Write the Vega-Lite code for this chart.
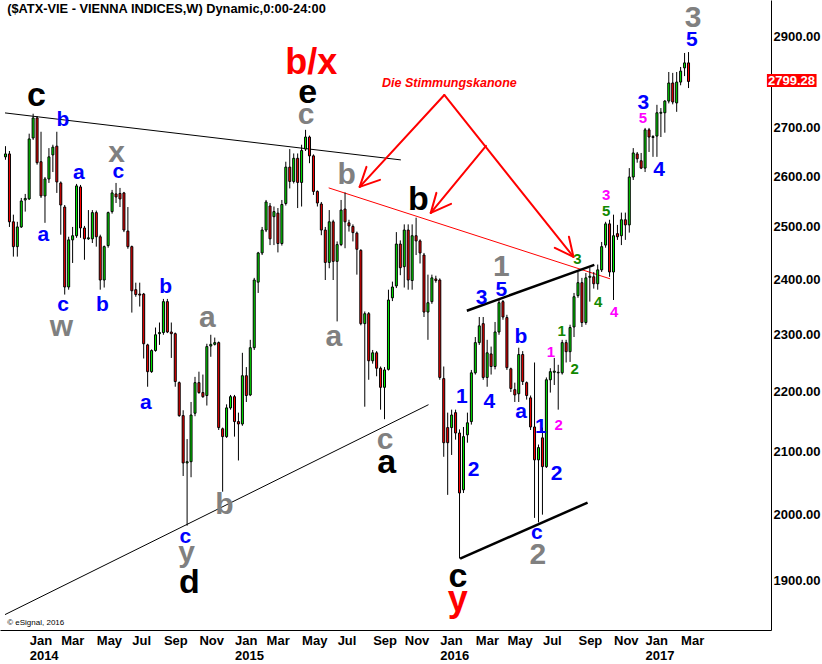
{
  "$schema": "https://vega.github.io/schema/vega-lite/v6.json",
  "width": 771,
  "height": 630,
  "autosize": {"type": "none"},
  "padding": {"left": 0, "top": 0, "right": 51, "bottom": 34},
  "background": "white",
  "config": {"view": {"stroke": null}, "axis": {"grid": false, "ticks": false, "title": null}},
  "datasets": {
    "candles": [
      {"d":"2013-11-25","o":2640,"h":2662,"l":2634,"c":2646},
      {"d":"2013-12-02","o":2646,"h":2652,"l":2500,"c":2510},
      {"d":"2013-12-09","o":2510,"h":2524,"l":2443,"c":2462},
      {"d":"2013-12-16","o":2462,"h":2510,"l":2443,"c":2500},
      {"d":"2013-12-23","o":2500,"h":2557,"l":2498,"c":2551},
      {"d":"2013-12-30","o":2553,"h":2565,"l":2530,"c":2556},
      {"d":"2014-01-06","o":2555,"h":2688,"l":2553,"c":2677},
      {"d":"2014-01-13","o":2679,"h":2730,"l":2675,"c":2721},
      {"d":"2014-01-20","o":2721,"h":2725,"l":2624,"c":2628},
      {"d":"2014-01-27","o":2630,"h":2692,"l":2557,"c":2561},
      {"d":"2014-02-03","o":2561,"h":2599,"l":2508,"c":2595},
      {"d":"2014-02-10","o":2595,"h":2658,"l":2587,"c":2640},
      {"d":"2014-02-17","o":2644,"h":2665,"l":2609,"c":2660},
      {"d":"2014-02-24","o":2662,"h":2692,"l":2567,"c":2589},
      {"d":"2014-03-03","o":2587,"h":2590,"l":2485,"c":2543},
      {"d":"2014-03-10","o":2539,"h":2543,"l":2372,"c":2386},
      {"d":"2014-03-17","o":2386,"h":2481,"l":2381,"c":2475},
      {"d":"2014-03-24","o":2475,"h":2500,"l":2431,"c":2483},
      {"d":"2014-03-31","o":2483,"h":2585,"l":2479,"c":2581},
      {"d":"2014-04-07","o":2579,"h":2583,"l":2479,"c":2498},
      {"d":"2014-04-14","o":2498,"h":2502,"l":2437,"c":2477},
      {"d":"2014-04-21","o":2477,"h":2533,"l":2475,"c":2479},
      {"d":"2014-04-28","o":2477,"h":2533,"l":2469,"c":2528},
      {"d":"2014-05-05","o":2528,"h":2532,"l":2462,"c":2481},
      {"d":"2014-05-12","o":2481,"h":2485,"l":2381,"c":2399},
      {"d":"2014-05-19","o":2399,"h":2464,"l":2385,"c":2462},
      {"d":"2014-05-26","o":2464,"h":2530,"l":2460,"c":2528},
      {"d":"2014-06-02","o":2530,"h":2573,"l":2526,"c":2567},
      {"d":"2014-06-09","o":2565,"h":2587,"l":2547,"c":2559},
      {"d":"2014-06-16","o":2566,"h":2577,"l":2539,"c":2555},
      {"d":"2014-06-23","o":2567,"h":2569,"l":2490,"c":2494},
      {"d":"2014-06-30","o":2492,"h":2539,"l":2458,"c":2462},
      {"d":"2014-07-07","o":2462,"h":2464,"l":2339,"c":2379},
      {"d":"2014-07-14","o":2381,"h":2394,"l":2368,"c":2372},
      {"d":"2014-07-21","o":2373,"h":2394,"l":2350,"c":2371},
      {"d":"2014-07-28","o":2373,"h":2375,"l":2257,"c":2283},
      {"d":"2014-08-04","o":2281,"h":2283,"l":2208,"c":2234},
      {"d":"2014-08-11","o":2234,"h":2273,"l":2232,"c":2271},
      {"d":"2014-08-18","o":2271,"h":2312,"l":2269,"c":2299},
      {"d":"2014-08-25","o":2301,"h":2321,"l":2281,"c":2303},
      {"d":"2014-09-01","o":2303,"h":2364,"l":2299,"c":2359},
      {"d":"2014-09-08","o":2359,"h":2364,"l":2302,"c":2304},
      {"d":"2014-09-15","o":2304,"h":2321,"l":2258,"c":2301},
      {"d":"2014-09-22","o":2301,"h":2303,"l":2208,"c":2217},
      {"d":"2014-09-29","o":2215,"h":2217,"l":2157,"c":2159},
      {"d":"2014-10-06","o":2159,"h":2168,"l":2060,"c":2081},
      {"d":"2014-10-13","o":2081,"h":2120,"l":1982,"c":2083},
      {"d":"2014-10-20","o":2083,"h":2182,"l":2058,"c":2160},
      {"d":"2014-10-27","o":2163,"h":2225,"l":2158,"c":2215},
      {"d":"2014-11-03","o":2215,"h":2234,"l":2196,"c":2198},
      {"d":"2014-11-10","o":2198,"h":2229,"l":2189,"c":2191},
      {"d":"2014-11-17","o":2193,"h":2283,"l":2176,"c":2278},
      {"d":"2014-11-24","o":2279,"h":2299,"l":2260,"c":2282},
      {"d":"2014-12-01","o":2282,"h":2294,"l":2280,"c":2285},
      {"d":"2014-12-08","o":2285,"h":2287,"l":2135,"c":2139},
      {"d":"2014-12-15","o":2137,"h":2139,"l":2035,"c":2124},
      {"d":"2014-12-22","o":2124,"h":2178,"l":2122,"c":2172},
      {"d":"2014-12-29","o":2172,"h":2194,"l":2169,"c":2191},
      {"d":"2015-01-05","o":2191,"h":2194,"l":2124,"c":2149},
      {"d":"2015-01-12","o":2149,"h":2164,"l":2085,"c":2145},
      {"d":"2015-01-19","o":2145,"h":2267,"l":2142,"c":2227},
      {"d":"2015-01-26","o":2227,"h":2242,"l":2182,"c":2193},
      {"d":"2015-02-02","o":2194,"h":2290,"l":2192,"c":2276},
      {"d":"2015-02-09","o":2276,"h":2403,"l":2272,"c":2399},
      {"d":"2015-02-16","o":2395,"h":2452,"l":2375,"c":2450},
      {"d":"2015-02-23","o":2450,"h":2500,"l":2446,"c":2494},
      {"d":"2015-03-02","o":2494,"h":2553,"l":2490,"c":2549},
      {"d":"2015-03-09","o":2541,"h":2547,"l":2465,"c":2477},
      {"d":"2015-03-16","o":2520,"h":2540,"l":2465,"c":2530},
      {"d":"2015-03-23","o":2527,"h":2537,"l":2451,"c":2468},
      {"d":"2015-03-30","o":2468,"h":2553,"l":2464,"c":2544},
      {"d":"2015-04-06","o":2546,"h":2630,"l":2542,"c":2619},
      {"d":"2015-04-13","o":2619,"h":2656,"l":2576,"c":2590},
      {"d":"2015-04-20","o":2590,"h":2647,"l":2586,"c":2637},
      {"d":"2015-04-27","o":2637,"h":2647,"l":2537,"c":2588},
      {"d":"2015-05-04","o":2588,"h":2665,"l":2540,"c":2653},
      {"d":"2015-05-11","o":2656,"h":2696,"l":2652,"c":2681},
      {"d":"2015-05-18","o":2681,"h":2684,"l":2627,"c":2642},
      {"d":"2015-05-25","o":2642,"h":2645,"l":2563,"c":2570},
      {"d":"2015-06-01","o":2570,"h":2572,"l":2540,"c":2547},
      {"d":"2015-06-08","o":2545,"h":2549,"l":2484,"c":2494},
      {"d":"2015-06-15","o":2494,"h":2500,"l":2399,"c":2432},
      {"d":"2015-06-22","o":2432,"h":2533,"l":2421,"c":2510},
      {"d":"2015-06-29","o":2510,"h":2514,"l":2399,"c":2434},
      {"d":"2015-07-06","o":2434,"h":2472,"l":2323,"c":2466},
      {"d":"2015-07-13","o":2466,"h":2553,"l":2463,"c":2533},
      {"d":"2015-07-20","o":2535,"h":2568,"l":2459,"c":2510},
      {"d":"2015-07-27","o":2508,"h":2514,"l":2491,"c":2502},
      {"d":"2015-08-03","o":2501,"h":2505,"l":2472,"c":2489},
      {"d":"2015-08-10","o":2488,"h":2491,"l":2409,"c":2457},
      {"d":"2015-08-17","o":2455,"h":2457,"l":2316,"c":2319},
      {"d":"2015-08-24","o":2319,"h":2341,"l":2174,"c":2337},
      {"d":"2015-08-31","o":2337,"h":2340,"l":2220,"c":2253},
      {"d":"2015-09-07","o":2253,"h":2272,"l":2248,"c":2267},
      {"d":"2015-09-14","o":2267,"h":2270,"l":2226,"c":2240},
      {"d":"2015-09-21","o":2240,"h":2243,"l":2169,"c":2207},
      {"d":"2015-09-28","o":2207,"h":2242,"l":2153,"c":2237},
      {"d":"2015-10-05","o":2238,"h":2381,"l":2236,"c":2362},
      {"d":"2015-10-12","o":2366,"h":2396,"l":2360,"c":2386},
      {"d":"2015-10-19","o":2388,"h":2490,"l":2384,"c":2467},
      {"d":"2015-10-26","o":2467,"h":2474,"l":2408,"c":2422},
      {"d":"2015-11-02","o":2424,"h":2505,"l":2385,"c":2494},
      {"d":"2015-11-09","o":2494,"h":2505,"l":2381,"c":2399},
      {"d":"2015-11-16","o":2398,"h":2505,"l":2381,"c":2483},
      {"d":"2015-11-23","o":2483,"h":2518,"l":2446,"c":2473},
      {"d":"2015-11-30","o":2473,"h":2476,"l":2430,"c":2450},
      {"d":"2015-12-07","o":2446,"h":2450,"l":2331,"c":2340},
      {"d":"2015-12-14","o":2340,"h":2409,"l":2290,"c":2357},
      {"d":"2015-12-21","o":2359,"h":2409,"l":2355,"c":2403},
      {"d":"2015-12-28","o":2401,"h":2407,"l":2394,"c":2398},
      {"d":"2016-01-04","o":2399,"h":2402,"l":2220,"c":2224},
      {"d":"2016-01-11","o":2222,"h":2243,"l":2091,"c":2114},
      {"d":"2016-01-18","o":2139,"h":2164,"l":2030,"c":2114},
      {"d":"2016-01-25","o":2139,"h":2169,"l":2094,"c":2160},
      {"d":"2016-02-01","o":2164,"h":2169,"l":2119,"c":2130},
      {"d":"2016-02-08","o":2130,"h":2136,"l":1932,"c":2033},
      {"d":"2016-02-15","o":2038,"h":2140,"l":2033,"c":2124},
      {"d":"2016-02-22","o":2127,"h":2164,"l":2114,"c":2147},
      {"d":"2016-02-29","o":2149,"h":2237,"l":2144,"c":2232},
      {"d":"2016-03-07","o":2232,"h":2295,"l":2229,"c":2285},
      {"d":"2016-03-14","o":2285,"h":2331,"l":2281,"c":2315},
      {"d":"2016-03-21","o":2319,"h":2331,"l":2220,"c":2224},
      {"d":"2016-03-28","o":2224,"h":2290,"l":2208,"c":2267},
      {"d":"2016-04-04","o":2265,"h":2278,"l":2229,"c":2243},
      {"d":"2016-04-11","o":2243,"h":2322,"l":2238,"c":2304},
      {"d":"2016-04-18","o":2304,"h":2362,"l":2299,"c":2357},
      {"d":"2016-04-25","o":2359,"h":2362,"l":2326,"c":2331},
      {"d":"2016-05-02","o":2330,"h":2335,"l":2237,"c":2241},
      {"d":"2016-05-09","o":2239,"h":2241,"l":2199,"c":2205},
      {"d":"2016-05-16","o":2203,"h":2215,"l":2182,"c":2194},
      {"d":"2016-05-23","o":2196,"h":2276,"l":2182,"c":2264},
      {"d":"2016-05-30","o":2264,"h":2270,"l":2211,"c":2217},
      {"d":"2016-06-06","o":2215,"h":2217,"l":2186,"c":2193},
      {"d":"2016-06-13","o":2189,"h":2193,"l":2135,"c":2140},
      {"d":"2016-06-20","o":2140,"h":2250,"l":1994,"c":2086},
      {"d":"2016-06-27","o":2086,"h":2111,"l":1987,"c":2106},
      {"d":"2016-07-04","o":2122,"h":2139,"l":1999,"c":2075},
      {"d":"2016-07-11","o":2075,"h":2224,"l":2073,"c":2220},
      {"d":"2016-07-18","o":2220,"h":2240,"l":2198,"c":2234},
      {"d":"2016-07-25","o":2233,"h":2258,"l":2211,"c":2235},
      {"d":"2016-08-01","o":2232,"h":2246,"l":2169,"c":2233},
      {"d":"2016-08-08","o":2232,"h":2290,"l":2229,"c":2285},
      {"d":"2016-08-15","o":2285,"h":2290,"l":2250,"c":2269},
      {"d":"2016-08-22","o":2269,"h":2317,"l":2251,"c":2312},
      {"d":"2016-08-29","o":2313,"h":2375,"l":2295,"c":2368},
      {"d":"2016-09-05","o":2370,"h":2414,"l":2366,"c":2394},
      {"d":"2016-09-12","o":2394,"h":2403,"l":2313,"c":2321},
      {"d":"2016-09-19","o":2321,"h":2412,"l":2317,"c":2403},
      {"d":"2016-09-26","o":2404,"h":2422,"l":2359,"c":2406},
      {"d":"2016-10-03","o":2405,"h":2414,"l":2383,"c":2392},
      {"d":"2016-10-10","o":2392,"h":2428,"l":2381,"c":2418},
      {"d":"2016-10-17","o":2418,"h":2471,"l":2414,"c":2462},
      {"d":"2016-10-24","o":2465,"h":2510,"l":2460,"c":2506},
      {"d":"2016-10-31","o":2506,"h":2514,"l":2405,"c":2414},
      {"d":"2016-11-07","o":2414,"h":2524,"l":2362,"c":2483},
      {"d":"2016-11-14","o":2487,"h":2504,"l":2475,"c":2481},
      {"d":"2016-11-21","o":2483,"h":2528,"l":2465,"c":2514},
      {"d":"2016-11-28","o":2514,"h":2528,"l":2475,"c":2504},
      {"d":"2016-12-05","o":2504,"h":2617,"l":2489,"c":2599},
      {"d":"2016-12-12","o":2599,"h":2658,"l":2593,"c":2648},
      {"d":"2016-12-19","o":2646,"h":2650,"l":2628,"c":2636},
      {"d":"2016-12-26","o":2632,"h":2648,"l":2615,"c":2617},
      {"d":"2017-01-02","o":2617,"h":2700,"l":2609,"c":2696},
      {"d":"2017-01-09","o":2696,"h":2700,"l":2650,"c":2681},
      {"d":"2017-01-16","o":2680,"h":2685,"l":2640,"c":2682},
      {"d":"2017-01-23","o":2683,"h":2749,"l":2640,"c":2732},
      {"d":"2017-01-30","o":2731,"h":2742,"l":2681,"c":2733},
      {"d":"2017-02-06","o":2732,"h":2759,"l":2690,"c":2757},
      {"d":"2017-02-13","o":2757,"h":2820,"l":2752,"c":2796},
      {"d":"2017-02-20","o":2796,"h":2818,"l":2750,"c":2755},
      {"d":"2017-02-27","o":2753,"h":2820,"l":2734,"c":2798},
      {"d":"2017-03-06","o":2798,"h":2831,"l":2791,"c":2822},
      {"d":"2017-03-13","o":2829,"h":2862,"l":2811,"c":2840},
      {"d":"2017-03-20","o":2840,"h":2864,"l":2785,"c":2799.28}
    ],
    "waves": [
      {"d":"2015-05-21","p":2839.8,"t":"b/x","g":"cycle"},
      {"d":"2016-02-05","p":1871.3,"t":"y","g":"cycle"},
      {"d":"2014-01-19","p":2767.9,"t":"c","g":"primary"},
      {"d":"2015-05-15","p":2774.4,"t":"e","g":"primary"},
      {"d":"2015-11-27","p":2553.1,"t":"b","g":"primary"},
      {"d":"2015-10-02","p":2081.5,"t":"a","g":"primary"},
      {"d":"2014-10-17","p":1896.2,"t":"d","g":"primary"},
      {"d":"2016-02-05","p":1905.1,"t":"c","g":"primary"},
      {"d":"2014-06-10","p":2648.1,"t":"x","g":"intermediate"},
      {"d":"2014-03-04","p":2313.4,"t":"w","g":"intermediate"},
      {"d":"2014-11-18","p":2329.6,"t":"a","g":"intermediate"},
      {"d":"2014-12-18","p":2014.7,"t":"b","g":"intermediate"},
      {"d":"2014-10-12","p":1940.9,"t":"y","g":"intermediate"},
      {"d":"2015-05-12","p":2727.4,"t":"c","g":"intermediate"},
      {"d":"2015-07-23","p":2603.2,"t":"b","g":"intermediate"},
      {"d":"2015-06-30","p":2295.4,"t":"a","g":"intermediate"},
      {"d":"2015-09-29","p":2118.9,"t":"c","g":"intermediate"},
      {"d":"2016-04-22","p":2423.7,"t":"1","g":"intermediate"},
      {"d":"2016-06-26","p":1937.9,"t":"2","g":"intermediate"},
      {"d":"2017-03-28","p":2940.9,"t":"3","g":"intermediate"},
      {"d":"2014-03-07","p":2716.8,"t":"b","g":"minor"},
      {"d":"2014-04-04","p":2607.3,"t":"a","g":"minor"},
      {"d":"2014-06-13","p":2609.3,"t":"c","g":"minor"},
      {"d":"2014-01-31","p":2484.7,"t":"a","g":"minor"},
      {"d":"2014-03-07","p":2353.2,"t":"c","g":"minor"},
      {"d":"2014-05-16","p":2353.2,"t":"b","g":"minor"},
      {"d":"2014-09-05","p":2386.3,"t":"b","g":"minor"},
      {"d":"2014-08-01","p":2180.8,"t":"a","g":"minor"},
      {"d":"2014-10-10","p":1965.2,"t":"c","g":"minor"},
      {"d":"2016-03-18","p":2366.0,"t":"3","g":"minor"},
      {"d":"2016-04-22","p":2380.8,"t":"5","g":"minor"},
      {"d":"2016-02-12","p":2190.9,"t":"1","g":"minor"},
      {"d":"2016-03-04","p":2070.2,"t":"2","g":"minor"},
      {"d":"2016-04-01","p":2182.4,"t":"4","g":"minor"},
      {"d":"2016-05-27","p":2295.4,"t":"b","g":"minor"},
      {"d":"2016-05-27","p":2165.5,"t":"a","g":"minor"},
      {"d":"2016-07-01","p":2140.4,"t":"1","g":"minor"},
      {"d":"2016-07-29","p":2063.7,"t":"2","g":"minor"},
      {"d":"2016-06-24","p":1971.3,"t":"c","g":"minor"},
      {"d":"2016-12-30","p":2752.9,"t":"3","g":"minor"},
      {"d":"2017-01-27","p":2613.4,"t":"4","g":"minor"},
      {"d":"2017-03-26","p":2891.0,"t":"5","g":"minor"},
      {"d":"2016-12-29","p":2721.0,"t":"5","g":"minute"},
      {"d":"2016-10-25","p":2563.0,"t":"3","g":"minute"},
      {"d":"2016-11-08","p":2340.5,"t":"4","g":"minute"},
      {"d":"2016-07-19","p":2268.9,"t":"1","g":"minute"},
      {"d":"2016-08-02","p":2143.8,"t":"2","g":"minute"},
      {"d":"2016-10-25","p":2531.5,"t":"5","g":"minuette"},
      {"d":"2016-09-04","p":2438.8,"t":"3","g":"minuette"},
      {"d":"2016-10-11","p":2358.7,"t":"4","g":"minuette"},
      {"d":"2016-08-07","p":2306.2,"t":"1","g":"minuette"},
      {"d":"2016-08-30","p":2239.1,"t":"2","g":"minuette"}
    ],
    "trend": [
      {"d1":"2013-11-24T03:00:00Z","p1":2731.7,"d2":"2015-10-27","p2":2633.7},
      {"d1":"2013-11-24T03:00:00Z","p1":1849.6,"d2":"2015-12-15","p2":2177.4}
    ],
    "kanone": [
      {"d1":"2015-06-21","p1":2577.1,"d2":"2016-11-01","p2":2401.2}
    ],
    "channel": [
      {"d1":"2016-02-21","p1":2342.3,"d2":"2016-10-04","p2":2427.5},
      {"d1":"2016-02-09","p1":1931.9,"d2":"2016-09-22","p2":2017.8}
    ],
    "arrows": [
      {"d1":"2016-01-12","p1":2770.1,"d2":"2015-08-15","p2":2579.1},
      {"d1":"2016-01-12","p1":2770.1,"d2":"2016-08-28","p2":2442.6},
      {"d1":"2016-03-26","p1":2662.5,"d2":"2015-12-19","p2":2527.5},
      {"d1":"2015-08-15","p1":2579.1,"d2":"2015-08-27","p2":2619.5},
      {"d1":"2015-08-15","p1":2579.1,"d2":"2015-09-20","p2":2593.2},
      {"d1":"2015-12-19","p1":2527.5,"d2":"2015-12-29","p2":2567.1},
      {"d1":"2015-12-19","p1":2527.5,"d2":"2016-01-24","p2":2545.2},
      {"d1":"2016-08-28","p1":2442.6,"d2":"2016-08-20","p2":2480.9},
      {"d1":"2016-08-28","p1":2442.6,"d2":"2016-07-26","p2":2459.8}
    ]
  },
  "layer": [
    {
      "data": {"name": "trend"},
      "mark": {"type": "rule", "color": "black", "strokeWidth": 1},
      "encoding": {
        "x": {
          "field": "d1", "type": "temporal", "title": null,
          "scale": {"type": "utc", "domain": [
            {"year": 2013, "month": 11, "date": 24, "hours": 3, "utc": true},
            {"year": 2017, "month": 8, "date": 4, "hours": 9, "utc": true}
          ]},
          "axis": {
            "values": [
              {"year": 2014, "month": 1, "date": 6, "utc": true},
              {"year": 2014, "month": 3, "date": 3, "utc": true},
              {"year": 2014, "month": 5, "date": 5, "utc": true},
              {"year": 2014, "month": 7, "date": 7, "utc": true},
              {"year": 2014, "month": 9, "date": 1, "utc": true},
              {"year": 2014, "month": 11, "date": 3, "utc": true},
              {"year": 2015, "month": 1, "date": 5, "utc": true},
              {"year": 2015, "month": 3, "date": 2, "utc": true},
              {"year": 2015, "month": 5, "date": 4, "utc": true},
              {"year": 2015, "month": 7, "date": 6, "utc": true},
              {"year": 2015, "month": 9, "date": 7, "utc": true},
              {"year": 2015, "month": 11, "date": 2, "utc": true},
              {"year": 2016, "month": 1, "date": 4, "utc": true},
              {"year": 2016, "month": 3, "date": 7, "utc": true},
              {"year": 2016, "month": 5, "date": 2, "utc": true},
              {"year": 2016, "month": 7, "date": 4, "utc": true},
              {"year": 2016, "month": 9, "date": 5, "utc": true},
              {"year": 2016, "month": 11, "date": 7, "utc": true},
              {"year": 2017, "month": 1, "date": 2, "utc": true},
              {"year": 2017, "month": 3, "date": 6, "utc": true}
            ],
            "labelExpr": "utcFormat(datum.value, '%m') == '01' ? [utcFormat(datum.value, '%b'), utcFormat(datum.value, '%Y')] : utcFormat(datum.value, '%b')",
            "labelAlign": "left",
            "labelFont": "Liberation Sans",
            "labelFontSize": 13,
            "labelFontWeight": "bold",
            "labelColor": "black",
            "labelPadding": 4,
            "labelLineHeight": 15,
            "labelOverlap": false,
            "labelBound": false,
            "labelFlush": false,
            "ticks": false,
            "grid": false,
            "domainColor": "black"
          }
        },
        "x2": {"field": "d2"},
        "y": {
          "field": "p1", "type": "quantitative", "title": null,
          "scale": {"type": "log", "domain": [1827.6, 2982.3], "nice": false, "zero": false},
          "axis": {
            "orient": "right",
            "values": [1900, 2000, 2100, 2200, 2300, 2400, 2500, 2600, 2700, 2900],
            "labelExpr": "format(datum.value, '.2f')",
            "labelAlign": "left",
            "labelFont": "Liberation Sans",
            "labelFontSize": 13,
            "labelFontWeight": "bold",
            "labelColor": "black",
            "labelPadding": 2,
            "ticks": false,
            "grid": false,
            "domainColor": "black"
          }
        },
        "y2": {"field": "p2"}
      }
    },
    {
      "data": {"name": "kanone"},
      "mark": {"type": "rule", "color": "#ff0000", "strokeWidth": 1},
      "encoding": {
        "x": {"field": "d1", "type": "temporal", "title": null},
        "x2": {"field": "d2"},
        "y": {"field": "p1", "type": "quantitative", "title": null},
        "y2": {"field": "p2"}
      }
    },
    {
      "data": {"name": "channel"},
      "mark": {"type": "rule", "color": "black", "strokeWidth": 2.5},
      "encoding": {
        "x": {"field": "d1", "type": "temporal", "title": null},
        "x2": {"field": "d2"},
        "y": {"field": "p1", "type": "quantitative", "title": null},
        "y2": {"field": "p2"}
      }
    },
    {
      "data": {"name": "candles"},
      "mark": {"type": "rule", "color": "black", "strokeWidth": 1},
      "encoding": {
        "x": {"field": "d", "type": "temporal", "title": null},
        "y": {"field": "l", "type": "quantitative", "title": null},
        "y2": {"field": "h"}
      }
    },
    {
      "data": {"name": "candles"},
      "mark": {"type": "bar", "size": 2, "stroke": "black", "strokeWidth": 1},
      "encoding": {
        "x": {"field": "d", "type": "temporal", "title": null},
        "y": {"field": "o", "type": "quantitative", "title": null},
        "y2": {"field": "c"},
        "fill": {"condition": {"test": "datum.c >= datum.o", "value": "#00ee00"}, "value": "#ff0000"}
      }
    },
    {
      "data": {"name": "arrows"},
      "mark": {"type": "rule", "color": "#ff0000", "strokeWidth": 2, "strokeCap": "round"},
      "encoding": {
        "x": {"field": "d1", "type": "temporal", "title": null},
        "x2": {"field": "d2"},
        "y": {"field": "p1", "type": "quantitative", "title": null},
        "y2": {"field": "p2"}
      }
    },
    {
      "data": {"name": "waves"},
      "transform": [{"filter": "datum.g == 'cycle'"}],
      "mark": {"type": "text", "font": "Liberation Sans", "fontWeight": "bold", "fontSize": 36, "color": "#ff0000", "align": "center", "baseline": "middle"},
      "encoding": {
        "x": {"field": "d", "type": "temporal", "title": null},
        "y": {"field": "p", "type": "quantitative", "title": null},
        "text": {"field": "t"}
      }
    },
    {
      "data": {"name": "waves"},
      "transform": [{"filter": "datum.g == 'primary'"}],
      "mark": {"type": "text", "font": "Liberation Sans", "fontWeight": "bold", "fontSize": 34, "color": "black", "align": "center", "baseline": "middle"},
      "encoding": {
        "x": {"field": "d", "type": "temporal", "title": null},
        "y": {"field": "p", "type": "quantitative", "title": null},
        "text": {"field": "t"}
      }
    },
    {
      "data": {"name": "waves"},
      "transform": [{"filter": "datum.g == 'intermediate'"}],
      "mark": {"type": "text", "font": "Liberation Sans", "fontWeight": "bold", "fontSize": 30, "color": "#808080", "align": "center", "baseline": "middle"},
      "encoding": {
        "x": {"field": "d", "type": "temporal", "title": null},
        "y": {"field": "p", "type": "quantitative", "title": null},
        "text": {"field": "t"}
      }
    },
    {
      "data": {"name": "waves"},
      "transform": [{"filter": "datum.g == 'minor'"}],
      "mark": {"type": "text", "font": "Liberation Sans", "fontWeight": "bold", "fontSize": 21, "color": "#0000ff", "align": "center", "baseline": "middle"},
      "encoding": {
        "x": {"field": "d", "type": "temporal", "title": null},
        "y": {"field": "p", "type": "quantitative", "title": null},
        "text": {"field": "t"}
      }
    },
    {
      "data": {"name": "waves"},
      "transform": [{"filter": "datum.g == 'minute'"}],
      "mark": {"type": "text", "font": "Liberation Sans", "fontWeight": "bold", "fontSize": 15, "color": "#ff00ff", "align": "center", "baseline": "middle"},
      "encoding": {
        "x": {"field": "d", "type": "temporal", "title": null},
        "y": {"field": "p", "type": "quantitative", "title": null},
        "text": {"field": "t"}
      }
    },
    {
      "data": {"name": "waves"},
      "transform": [{"filter": "datum.g == 'minuette'"}],
      "mark": {"type": "text", "font": "Liberation Sans", "fontWeight": "bold", "fontSize": 15, "color": "#118800", "align": "center", "baseline": "middle"},
      "encoding": {
        "x": {"field": "d", "type": "temporal", "title": null},
        "y": {"field": "p", "type": "quantitative", "title": null},
        "text": {"field": "t"}
      }
    },
    {
      "data": {"values": [{"d": "2016-01-21", "p": 2796, "t": "Die Stimmungskanone"}]},
      "mark": {"type": "text", "font": "Liberation Sans", "fontWeight": "bold", "fontStyle": "italic", "fontSize": 12.5, "color": "#ff0000", "align": "center", "baseline": "middle"},
      "encoding": {
        "x": {"field": "d", "type": "temporal", "title": null},
        "y": {"field": "p", "type": "quantitative", "title": null},
        "text": {"field": "t"}
      }
    },
    {
      "data": {"values": [{"d": "2013-11-28", "p": 2961.5, "t": "($ATX-VIE - VIENNA INDICES,W) Dynamic,0:00-24:00"}]},
      "mark": {"type": "text", "font": "Liberation Sans", "fontWeight": "bold", "fontSize": 12.8, "color": "black", "align": "left", "baseline": "middle"},
      "encoding": {
        "x": {"field": "d", "type": "temporal", "title": null},
        "y": {"field": "p", "type": "quantitative", "title": null},
        "text": {"field": "t"}
      }
    },
    {
      "data": {"values": [{"d": "2013-11-28", "p": 1838.2, "t": "© eSignal, 2016"}]},
      "mark": {"type": "text", "font": "Liberation Sans", "fontSize": 8, "color": "black", "align": "left", "baseline": "middle"},
      "encoding": {
        "x": {"field": "d", "type": "temporal", "title": null},
        "y": {"field": "p", "type": "quantitative", "title": null},
        "text": {"field": "t"}
      }
    },
    {
      "data": {"values": [{"d1": "2017-08-06", "d2": "2017-11-02", "p1": 2815.5, "p2": 2787.5}]},
      "mark": {"type": "rect", "color": "#ff0000"},
      "encoding": {
        "x": {"field": "d1", "type": "temporal", "title": null},
        "x2": {"field": "d2"},
        "y": {"field": "p1", "type": "quantitative", "title": null},
        "y2": {"field": "p2"}
      }
    },
    {
      "data": {"values": [{"d": "2017-08-08", "p": 2799.28}]},
      "mark": {"type": "text", "font": "Liberation Sans", "fontWeight": "bold", "fontSize": 13, "color": "white", "align": "left", "baseline": "middle"},
      "encoding": {
        "x": {"field": "d", "type": "temporal", "title": null},
        "y": {"field": "p", "type": "quantitative", "title": null},
        "text": {"field": "p", "type": "quantitative", "format": ".2f"}
      }
    }
  ]
}
